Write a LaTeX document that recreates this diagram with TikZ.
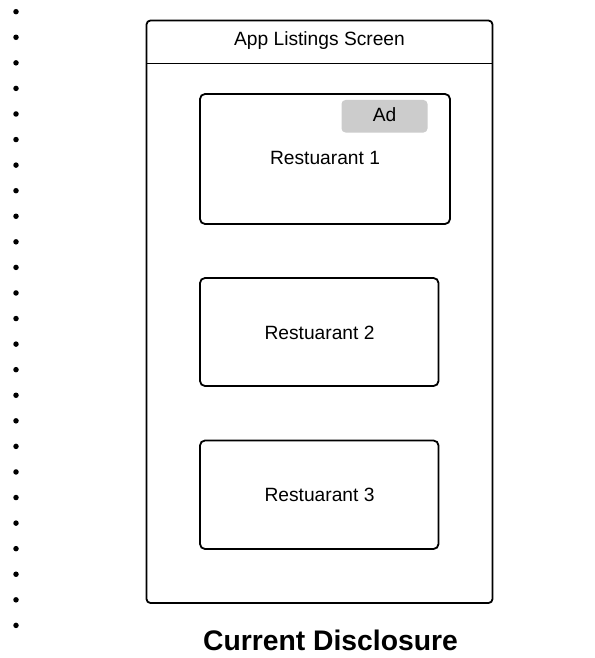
\documentclass[tikz,border=0pt]{standalone}
\usepackage{fontspec}
\setmainfont{Liberation Sans}
\begin{document}
\begin{tikzpicture}[x=1pt,y=-1pt,
  frame/.style={draw=black,line width=1.8pt,rounded corners=4pt,fill=white},
  card/.style={draw=black,line width=1.8pt,rounded corners=5pt,fill=white},
  adtag/.style={fill=black!20,rounded corners=4pt},
  label/.style={font=\fontsize{19.2}{22}\selectfont,inner sep=0pt},
  bullet/.style={circle,fill=black,inner sep=0pt,minimum size=5.5pt}]
\useasboundingbox (0,0) rectangle (594,658);
% bullet column on the left
\foreach \i in {0,...,24}
  \node[bullet] (b\i) at (16,{11.7+25.57*\i}) {};
% phone screen with header bar
\draw[frame] (146.5,20.5) rectangle (492.5,603);
\coordinate (hl) at (146.5,63.5);
\coordinate (hr) at (492.5,63.5);
\draw[line width=1.8pt] (hl) -- (hr);
\node[label] (title) at (319.5,40.5) {App Listings Screen};
% listing cards
\draw[card] (200,94) rectangle (450,224);
\fill[adtag] (341.5,100) rectangle (427.5,132.5);
\node[label] (ad) at (384.5,115) {Ad};
\node[label] (r1) at (325,157.5) {Restuarant 1};
\draw[card] (200,278) rectangle (438.5,386);
\node[label] (r2) at (319.5,332.5) {Restuarant 2};
\draw[card] (200,440.5) rectangle (438.5,549);
\node[label] (r3) at (319.5,494.5) {Restuarant 3};
% caption
\node[font=\fontsize{28.3}{32}\selectfont\bfseries,inner sep=0pt] (cap) at (330.5,640.5) {Current Disclosure};
\end{tikzpicture}
\end{document}
